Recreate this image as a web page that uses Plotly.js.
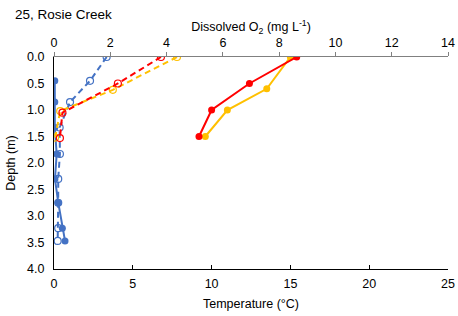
<!DOCTYPE html>
<html><head><meta charset="utf-8">
<script src="https://cdn.plot.ly/plotly-3.0.1.min.js"></script>
<style>body{margin:0;padding:0;background:#fff}#chart{width:458px;height:316px}</style>
</head><body><div id="chart"></div>
<script>
// Temperature (bottom axis, °C)
const redTempDepth = [0, 0.5, 1.0, 1.5];
const redTemp = [15.4, 12.4, 10.0, 9.2];
const yellowTempDepth = [0, 0.6, 1.0, 1.5];
const yellowTemp = [15.0, 13.5, 11.0, 9.6];
const blueTempDepth = [0.45, 0.85, 1.33, 1.83, 2.3, 2.75, 3.23, 3.47];
const blueTemp = [0.05, 0.05, 0.05, 0.17, 0.06, 0.27, 0.53, 0.7];
// Dissolved O2 (top axis, mg/L)
const redDODepth = [0, 0.5, 1.05, 1.53];
const redDO = [3.8, 2.27, 0.3, 0.21];
const yellowDODepth = [0, 0.62, 1.02, 1.52];
const yellowDO = [4.37, 2.09, 0.22, 0.04];
const blueDODepth = [0, 0.45, 0.85, 1.33, 1.83, 2.3, 2.75, 3.23, 3.47];
const blueDO = [1.87, 1.28, 0.57, 0.2, 0.21, 0.15, 0.15, 0.15, 0.13];

const RED = '#FF0000', YEL = '#FFC000', BLUE = '#4472C4';
function tempTrace(x, y, c) {
  return {x: x, y: y, xaxis: 'x', yaxis: 'y', mode: 'lines+markers', type: 'scatter',
    line: {color: c, width: 2}, marker: {color: c, size: 7, symbol: 'circle'}, showlegend: false};
}
function doTrace(x, y, c) {
  return {x: x, y: y, xaxis: 'x2', yaxis: 'y', mode: 'lines+markers', type: 'scatter',
    line: {color: c, width: 2, dash: '6px,4px'},
    marker: {color: c, size: 7, symbol: 'circle-open', line: {width: 1.2, color: c}}, showlegend: false};
}
const data = [
  doTrace(blueDO, blueDODepth, BLUE),
  doTrace(yellowDO, yellowDODepth, YEL),
  doTrace(redDO, redDODepth, RED),
  tempTrace(blueTemp, blueTempDepth, BLUE),
  tempTrace(yellowTemp, yellowTempDepth, YEL),
  tempTrace(redTemp, redTempDepth, RED)
];
const FF = 'Liberation Sans, Arial, sans-serif';
const font = {family: FF, size: 12.5, color: '#000'};
const layout = {
  width: 458, height: 316,
  margin: {l: 54, r: 10, t: 57, b: 47},
  paper_bgcolor: '#fff', plot_bgcolor: '#fff',
  font: font,
  title: {text: '25, Rosie Creek', x: 15/458, xanchor: 'left', xref: 'container',
    y: 1 - 14/316, yanchor: 'middle', yref: 'container', font: {family: FF, size: 13.5, color: '#000'}},
  xaxis: {range: [0, 25], dtick: 5, tickformat: 'd', showgrid: false, zeroline: false,
    showline: true, linecolor: '#000', linewidth: 1, ticks: 'inside', ticklen: 4, tickcolor: '#000',
    ticklabelstandoff: 3,
    title: {text: 'Temperature (°C)', font: font, standoff: 9}, tickfont: font},
  xaxis2: {range: [0, 14], dtick: 2, overlaying: 'x', side: 'top', anchor: 'y', showgrid: false, zeroline: false,
    showline: true, linecolor: '#808080', linewidth: 1.5, ticks: 'outside', ticklen: 4, tickcolor: '#808080',
    title: {text: 'Dissolved O<sub>2</sub> (mg L<sup>-1</sup>)', font: font, standoff: 1}, tickfont: font},
  yaxis: {range: [4, 0], dtick: 0.5, tickformat: '.1f', showgrid: false, zeroline: false,
    showline: true, linecolor: '#000', linewidth: 1, ticks: '', ticklabelstandoff: 6,
    title: {text: 'Depth (m)', font: font, standoff: 8}, tickfont: font}
};
Plotly.newPlot('chart', data, layout, {displayModeBar: false, staticPlot: true});
</script></body></html>
